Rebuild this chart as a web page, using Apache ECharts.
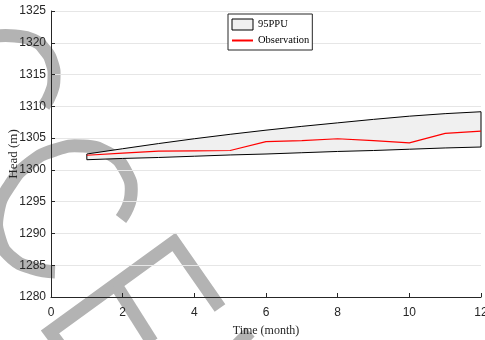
<!DOCTYPE html>
<html>
<head>
<meta charset="utf-8">
<script src="https://cdn.jsdelivr.net/npm/echarts@6/dist/echarts.min.js"></script>
<style>
  html, body { margin: 0; padding: 0; background: #fff; }
  #chart { width: 485px; height: 340px; }
</style>
</head>
<body>
<div id="chart"></div>
<script>
(function () {
  "use strict";
  const chart = echarts.init(document.getElementById("chart"));

  // monthly values
  const months = [1, 2, 3, 4, 5, 6, 7, 8, 9, 10, 11, 12];
  const upper95 = [1302.5, 1303.33, 1304.14, 1304.9, 1305.6, 1306.25, 1306.85, 1307.4, 1307.95, 1308.45, 1308.85, 1309.15];
  const lower95 = [1301.6, 1301.8, 1301.95, 1302.15, 1302.35, 1302.5, 1302.7, 1302.9, 1303.05, 1303.25, 1303.45, 1303.6];
  const observed = [1302.3, 1302.65, 1302.95, 1303.0, 1303.05, 1304.45, 1304.6, 1304.9, 1304.6, 1304.25, 1305.75, 1306.1];
  const xTicks = { min: 0, max: 12, step: 2 };
  const yTicks = { min: 1280, max: 1325, step: 5 };

  const axisColor = "#262626";
  const tickFont = "'Liberation Sans Narrow', 'Arial Narrow', 'Liberation Sans', sans-serif";
  const serif = "'Liberation Serif', 'Times New Roman', serif";
  const wm = "#b3b3b3";

  // watermark strokes behind the plot
  const stroke = (points, smooth) => ({
    type: "polyline", z: -1, silent: true,
    shape: { points, smooth: smooth ? 0.5 : 0 },
    style: { stroke: wm, lineWidth: 13, fill: null, lineJoin: "miter" },
  });
  const watermark = [
    stroke([[-4, 36], [15, 36], [33, 40], [45, 50], [52, 63], [54, 78], [51, 93], [44, 106]], true),
    stroke([[121, 219], [131, 195], [125, 170], [108, 153], [82, 146], [55, 150], [30, 163], [10, 185], [-2, 212], [0, 240], [12, 258], [32, 268], [55, 272]], true),
    stroke([[62, 348], [50, 332], [174, 242], [220, 308]]),
    stroke([[116, 285], [152, 342]]),
    stroke([[236, 346], [250, 332]]),
  ];

  chart.setOption({
    animation: false,
    graphic: watermark,
    grid: { left: 51, right: 4, top: 11, bottom: 43, containLabel: false, outerBoundsMode: "none" },
    legend: {
      orient: "vertical",
      left: 228, top: 14,
      padding: [4, 3, 3, 3],
      itemGap: 3,
      itemWidth: 21, itemHeight: 11,
      backgroundColor: "#fff",
      borderColor: axisColor, borderWidth: 1,
      textStyle: { fontFamily: serif, fontSize: 10.5, lineHeight: 13, color: "#000" },
      data: [
        { name: "95PPU", icon: "rect", itemStyle: { color: "#f0f0f0", borderColor: "#000", borderWidth: 1 } },
        { name: "Observation", itemStyle: { opacity: 0 } },
      ],
    },
    xAxis: {
      type: "value",
      min: xTicks.min, max: xTicks.max, interval: xTicks.step,
      name: "Time (month)", nameLocation: "middle", nameGap: 28, nameMoveOverlap: false,
      nameTextStyle: { fontFamily: serif, fontSize: 12, color: axisColor },
      axisLine: { lineStyle: { color: axisColor, width: 1 } },
      axisTick: { inside: true, length: 4, lineStyle: { color: axisColor } },
      axisLabel: { margin: 10, fontFamily: tickFont, fontSize: 12, color: axisColor },
      splitLine: { show: false },
    },
    yAxis: {
      type: "value",
      min: yTicks.min, max: yTicks.max, interval: yTicks.step,
      name: "Head (m)", nameLocation: "middle", nameGap: 31, nameMoveOverlap: false,
      nameTextStyle: { fontFamily: serif, fontSize: 13, color: axisColor },
      axisLine: { show: true, lineStyle: { color: axisColor, width: 1 } },
      axisTick: { show: true, inside: true, length: 4, lineStyle: { color: axisColor } },
      axisLabel: { margin: 5, fontFamily: tickFont, fontSize: 12, color: axisColor, formatter: v => String(v) },
      splitLine: { show: true, lineStyle: { color: "#e6e6e6", width: 1 } },
    },
    series: [
      {
        name: "95PPU",
        type: "custom",
        itemStyle: { color: "#f0f0f0", borderColor: "#000", borderWidth: 1 },
        data: [[months[0], lower95[0]]],
        renderItem(params, api) {
          const top = months.map((m, i) => api.coord([m, upper95[i]]));
          const bottom = months.map((m, i) => api.coord([m, lower95[i]])).reverse();
          return {
            type: "polygon",
            shape: { points: top.concat(bottom) },
            style: { fill: "#f0f0f0", stroke: "#000", lineWidth: 1 },
          };
        },
      },
      {
        name: "Observation",
        type: "line",
        symbol: "none",
        data: months.map((m, i) => [m, observed[i]]),
        lineStyle: { color: "#ff0000", width: 1.2 },
        itemStyle: { color: "#ff0000" },
      },
    ],
  });
})();
</script>
</body>
</html>
